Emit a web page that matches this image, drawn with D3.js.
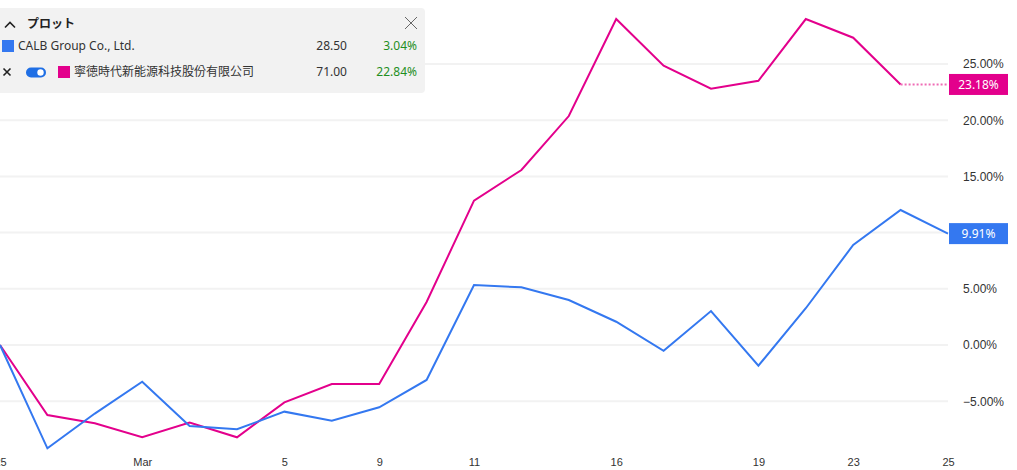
<!DOCTYPE html>
<html>
<head>
<meta charset="utf-8">
<script src="https://cdn.jsdelivr.net/npm/d3@7"></script>
<style>
  body { margin: 0; background: #fff; }
  svg { display: block; font-family: "Noto Sans", "Noto Sans CJK JP", sans-serif; }
</style>
</head>
<body>
<svg width="1017" height="470"></svg>
<script>
// data (percent change from first point)
var calb = [0, -9.19, -6.1, -3.27, -7.21, -7.5, -5.93, -6.73, -5.54, -3.11, 5.34,
            5.13, 4.0, 2.07, -0.51, 3.02, -1.84, 3.27, 8.9, 12.01, 9.91];
var catl = [0, -6.23, -6.97, -8.21, -6.91, -8.21, -5.1, -3.47, -3.47, 3.83, 12.84,
            15.57, 20.37, 29.0, 24.85, 22.8, 23.51, 29.0, 27.34, 23.18];
var tickIndex = [0, 3, 6, 8, 10, 13, 16, 18, 20];
var tickLabels = ["25", "Mar", "5", "9", "11", "16", "19", "23", "25"];
var yTicks = [-5, 0, 5, 10, 15, 20, 25];
var seriesNames = ["CALB Group Co., Ltd.", "寧徳時代新能源科技股份有限公司"];
var seriesPrice = ["28.50", "71.00"];
var seriesChange = ["3.04%", "22.84%"];
var lastLabels = ["9.91%", "23.18%"];

var blue = "#3478f0", pink = "#e3008c";

var svg = d3.select("svg"),
    width = +svg.attr("width"),
    height = +svg.attr("height");

// scales
var xScale = d3.scaleLinear().domain([0, calb.length - 1]).range([0, 948]);
var yScale = d3.scaleLinear().domain([0, 25]).range([345, 64]);

// grid
svg.append("g").selectAll("line")
    .data(yTicks)
  .enter().append("line")
    .attr("x1", 0).attr("x2", 948)
    .attr("y1", function(d) { return yScale(d); })
    .attr("y2", function(d) { return yScale(d); })
    .attr("stroke", "#f2f2f2")
    .attr("stroke-width", 2);

// right axis (ticks hidden behind a last-value box are dropped)
var lastVals = [calb[calb.length - 1], catl[catl.length - 1]];
var yAxis = d3.axisRight(yScale)
    .tickValues(yTicks.filter(function(t) {
      return lastVals.every(function(v) { return Math.abs(yScale(t) - yScale(v)) > 14; });
    }))
    .tickSize(0)
    .tickPadding(15)
    .tickFormat(function(d) { return d3.format(".2f")(d) + "%"; });
var ya = svg.append("g").attr("transform", "translate(948,0)").call(yAxis);
ya.select(".domain").remove();
ya.selectAll("text").attr("fill", "#333").style("font-size", "12px");

// bottom axis
var xAxis = d3.axisBottom(xScale)
    .tickValues(tickIndex)
    .tickSize(0)
    .tickPadding(0)
    .tickFormat(function(d, i) { return tickLabels[i]; });
var xa = svg.append("g").attr("transform", "translate(0,458)").call(xAxis);
xa.select(".domain").remove();
xa.selectAll("text").attr("fill", "#333").style("font-size", "11px");

// lines
var line = d3.line()
    .x(function(d, i) { return xScale(i); })
    .y(function(d) { return yScale(d); });

svg.append("path").datum(catl)
    .attr("fill", "none").attr("stroke", pink).attr("stroke-width", 2)
    .attr("d", line);
svg.append("path").datum(calb)
    .attr("fill", "none").attr("stroke", blue).attr("stroke-width", 2)
    .attr("d", line);

// dotted extension of the pink series
var lastCatl = catl[catl.length - 1];
svg.append("line")
    .attr("x1", xScale(catl.length - 1)).attr("x2", xScale(calb.length - 1))
    .attr("y1", yScale(lastCatl)).attr("y2", yScale(lastCatl))
    .attr("stroke", "#ef6cb5").attr("stroke-width", 2)
    .attr("stroke-dasharray", "2,2");

// last value labels
function add_last_label(val, color, label) {
  var y = yScale(val);
  svg.append("rect")
    .attr("x", 949).attr("y", y - 10.5)
    .attr("width", 59).attr("height", 21)
    .attr("fill", color);
  svg.append("text")
    .attr("x", 978.5).attr("y", y + 4.5)
    .attr("text-anchor", "middle")
    .attr("fill", "#fff")
    .style("font-size", "12px")
    .text(label);
}
add_last_label(calb[calb.length - 1], blue, lastLabels[0]);
add_last_label(lastCatl, pink, lastLabels[1]);

// legend panel
var legend = svg.append("g").attr("class", "legend");
legend.append("rect")
  .attr("x", -6).attr("y", 8)
  .attr("width", 431).attr("height", 85)
  .attr("rx", 4)
  .attr("fill", "#f2f2f2");

legend.append("path")
  .attr("d", "M5,27.5 L10,22.5 L15,27.5")
  .attr("fill", "none").attr("stroke", "#222").attr("stroke-width", 1.6);
legend.append("text")
  .attr("x", 27).attr("y", 28)
  .attr("fill", "#222")
  .style("font-size", "12px").style("font-weight", "bold")
  .style("font-family", "'Noto Sans CJK JP', sans-serif")
  .text("プロット");
legend.append("path")
  .attr("d", "M405,17 L417,29 M417,17 L405,29")
  .attr("stroke", "#666").attr("stroke-width", 1);

var rowY = [46, 72];
var colors = [blue, pink];
var swatchX = [2, 58];
seriesNames.forEach(function(name, i) {
  var y = rowY[i];
  legend.append("rect")
    .attr("x", swatchX[i]).attr("y", y - 6)
    .attr("width", 12).attr("height", 12)
    .attr("fill", colors[i]);
  legend.append("text")
    .attr("x", swatchX[i] + 16).attr("y", y + 4)
    .attr("fill", "#333")
    .style("font-size", "12px")
    .text(name);
  legend.append("text")
    .attr("x", 347).attr("y", y + 4)
    .attr("text-anchor", "end")
    .attr("fill", "#333")
    .style("font-size", "12px")
    .text(seriesPrice[i]);
  legend.append("text")
    .attr("x", 417).attr("y", y + 4)
    .attr("text-anchor", "end")
    .attr("fill", "#1f8f1f")
    .style("font-size", "12px")
    .text(seriesChange[i]);
});

// remove mark and toggle on second row
legend.append("path")
  .attr("d", "M3.5,68.5 L10.5,75.5 M10.5,68.5 L3.5,75.5")
  .attr("stroke", "#222").attr("stroke-width", 1.6);
legend.append("rect")
  .attr("x", 26).attr("y", 67.5)
  .attr("width", 20).attr("height", 10)
  .attr("rx", 5)
  .attr("fill", "#1f6fe5");
legend.append("circle")
  .attr("cx", 40.5).attr("cy", 72.5).attr("r", 3.2)
  .attr("fill", "#fff");
</script>
</body>
</html>
